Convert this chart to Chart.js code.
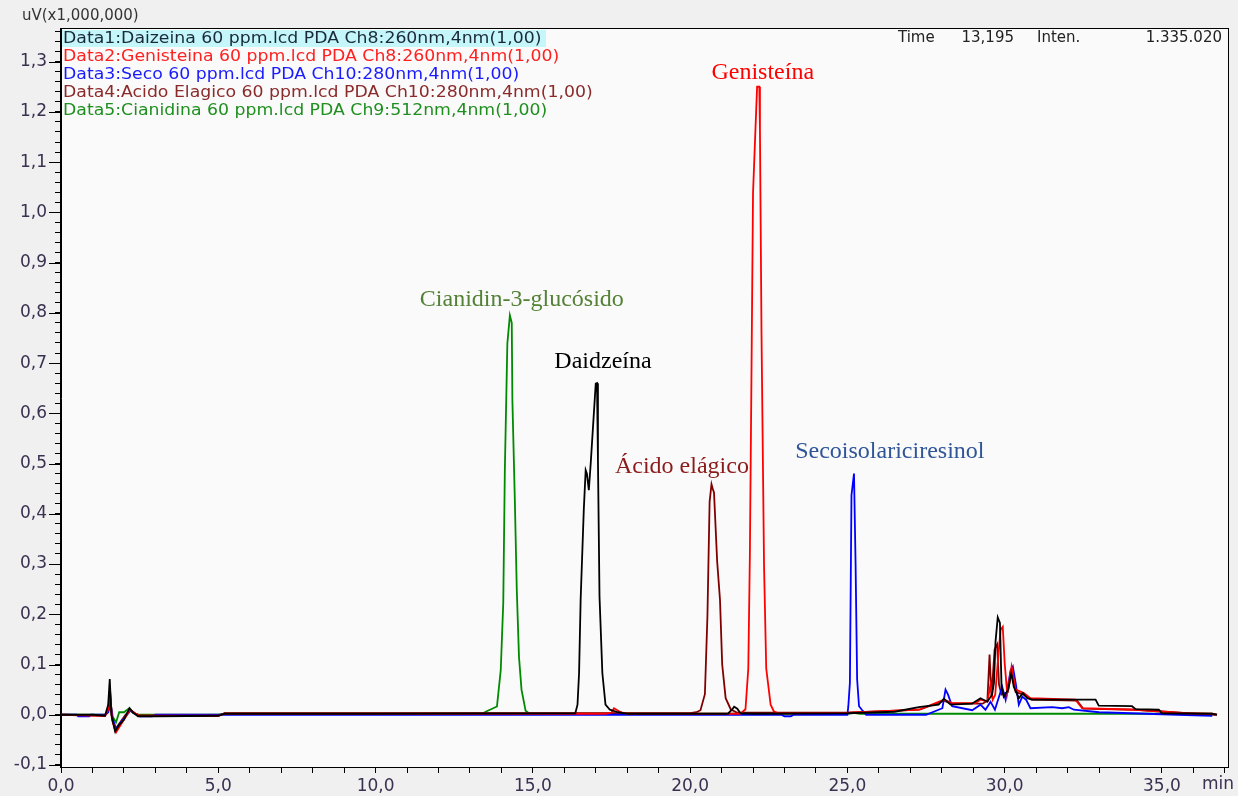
<!DOCTYPE html>
<html>
<head>
<meta charset="utf-8">
<title>Cromatograma</title>
<script src="https://cdn.jsdelivr.net/npm/chart.js@4.4.1/dist/chart.umd.min.js"></script>
<style>
html, body { margin: 0; padding: 0; background: #f0f0f0; }
#wrap { width: 1238px; height: 796px; }
</style>
</head>
<body>
<div id="wrap"><canvas id="chromChart" width="1238" height="796"></canvas></div>
<script>
// axis ranges (min, uV x 1,000,000)
var xMin = 0, xMax = 37.1;
var yMin = -0.104, yMax = 1.365;

// Data1: Daidzeina (black)
var daidzeinT = [0, 1.0, 1.4, 1.5, 1.55, 1.6, 1.72, 1.85, 2.0, 2.18, 2.3, 2.45, 3.0, 5.0, 5.2, 10, 16.35, 16.42, 16.47, 16.52, 16.62, 16.68, 16.72, 16.78, 16.84, 16.94, 17.0, 17.04, 17.07, 17.12, 17.21, 17.31, 17.45, 17.7, 18, 21.2, 21.33, 21.4, 21.5, 21.6, 22, 25, 26.5, 27.27, 27.9, 28.07, 28.28, 28.96, 29.23, 29.45, 29.6, 29.66, 29.71, 29.78, 29.85, 29.9, 29.97, 30.11, 30.21, 30.29, 30.45, 30.58, 30.72, 30.87, 32.89, 32.99, 34.05, 34.16, 34.9, 35.0, 36.6, 36.75];
var daidzeinV = [0, 0, -0.002, 0.02, 0.071, 0.0, -0.033, -0.02, -0.01, 0.013, 0.004, -0.003, -0.003, -0.002, 0.002, 0.002, 0.003, 0.02, 0.083, 0.229, 0.408, 0.487, 0.48, 0.447, 0.5, 0.60, 0.659, 0.66, 0.507, 0.235, 0.083, 0.02, 0.01, 0.005, 0.002, 0.002, 0.01, 0.016, 0.012, 0.003, 0.002, 0.003, 0.006, 0.015, 0.02, 0.032, 0.02, 0.022, 0.033, 0.026, 0.04, 0.064, 0.146, 0.194, 0.183, 0.056, 0.036, 0.05, 0.083, 0.056, 0.033, 0.043, 0.033, 0.03, 0.03, 0.018, 0.017, 0.011, 0.01, 0.003, 0.002, 0];

// Data2: Genisteina (red)
var genisteinT = [0, 1.4, 1.5, 1.56, 1.62, 1.75, 1.9, 2.1, 2.2, 2.35, 2.5, 5, 5.2, 16.4, 17.3, 17.5, 17.58, 17.66, 17.74, 17.85, 18.0, 21.6, 21.76, 21.85, 21.9, 21.95, 22.0, 22.08, 22.13, 22.2, 22.22, 22.27, 22.35, 22.42, 22.56, 22.66, 22.8, 25, 27.27, 28.07, 28.33, 29.07, 29.23, 29.45, 29.55, 29.62, 29.7, 29.8, 29.87, 29.94, 30.0, 30.08, 30.22, 30.35, 30.61, 30.82, 32.25, 32.46, 34.16, 35.75, 36.6, 36.75];
var genisteinV = [0, -0.002, 0.01, 0.05, -0.01, -0.035, -0.02, 0.0, 0.01, 0.003, -0.002, -0.002, 0.002, 0.002, 0.002, 0.004, 0.013, 0.01, 0.007, 0.004, 0.002, 0.002, 0.011, 0.092, 0.318, 0.672, 1.038, 1.17, 1.25, 1.25, 1.166, 0.757, 0.297, 0.092, 0.02, 0.007, 0.003, 0.004, 0.01, 0.03, 0.023, 0.023, 0.03, 0.026, 0.06, 0.03, 0.04, 0.12, 0.169, 0.175, 0.103, 0.043, 0.096, 0.05, 0.043, 0.033, 0.03, 0.013, 0.01, 0.003, 0.002, 0];

// Data3: Seco (blue)
var secoT = [0, 0.5, 0.55, 0.9, 0.95, 1.4, 1.5, 1.57, 1.63, 1.75, 1.9, 2.1, 2.2, 2.4, 2.5, 2.9, 3.0, 5.0, 5.2, 10.0, 16.4, 20, 22.9, 23.0, 23.2, 23.3, 25.0, 25.03, 25.08, 25.13, 25.21, 25.26, 25.31, 25.37, 25.46, 25.6, 27.5, 28.02, 28.12, 28.2, 28.33, 28.97, 29.23, 29.39, 29.55, 29.69, 29.82, 29.92, 30.03, 30.19, 30.26, 30.35, 30.45, 30.56, 30.68, 30.82, 31.51, 31.83, 32.04, 32.2, 33.0, 35.5, 36.6];
var secoV = [0, 0, -0.003, -0.003, 0, 0, 0.005, 0.03, -0.005, -0.028, -0.015, 0.0, 0.008, 0.0, -0.003, -0.003, 0, 0, 0, 0, 0, 0, 0, -0.003, -0.003, 0, 0, 0.017, 0.064, 0.437, 0.48, 0.302, 0.07, 0.017, 0.01, 0.0, 0.0, 0.013, 0.05, 0.04, 0.017, 0.009, 0.02, 0.01, 0.026, 0.01, 0.036, 0.056, 0.03, 0.089, 0.096, 0.063, 0.02, 0.036, 0.03, 0.013, 0.015, 0.013, 0.015, 0.01, 0.005, 0, -0.002];

// Data4: Acido Elagico (dark red)
var elagicoT = [0, 1.4, 1.5, 1.56, 1.62, 1.72, 1.85, 2.05, 2.2, 2.35, 2.5, 5, 5.2, 16.4, 20.0, 20.2, 20.33, 20.47, 20.55, 20.62, 20.68, 20.72, 20.76, 20.86, 20.95, 21.02, 21.13, 21.29, 21.5, 25, 27.3, 28.07, 28.3, 29.3, 29.45, 29.52, 29.58, 29.68, 29.76, 29.82, 29.9, 30.1, 30.22, 30.35, 30.6, 30.85, 32.3, 32.5, 34.2, 35.8, 36.7];
var elagicoV = [0, -0.002, 0.01, 0.045, -0.005, -0.03, -0.018, 0.0, 0.01, 0.003, -0.002, -0.002, 0.003, 0.003, 0.003, 0.005, 0.009, 0.041, 0.195, 0.424, 0.459, 0.45, 0.442, 0.305, 0.229, 0.1, 0.033, 0.011, 0.004, 0.004, 0.01, 0.028, 0.022, 0.022, 0.028, 0.12, 0.035, 0.13, 0.14, 0.06, 0.04, 0.045, 0.085, 0.045, 0.04, 0.03, 0.028, 0.012, 0.01, 0.003, 0];

// Data5: Cianidina (green)
var cianidinaT = [0, 1.4, 1.5, 1.58, 1.65, 1.75, 1.85, 2.0, 2.15, 2.3, 2.5, 5, 5.2, 13.4, 13.5, 13.86, 13.98, 14.06, 14.11, 14.19, 14.27, 14.33, 14.35, 14.43, 14.49, 14.56, 14.64, 14.77, 14.9, 25, 25.2, 25.4, 36.6];
var cianidinaV = [0, 0, 0.005, 0.02, -0.005, -0.015, 0.005, 0.005, 0.012, 0.003, 0, 0, 0.002, 0.002, 0.006, 0.0165, 0.089, 0.223, 0.487, 0.739, 0.795, 0.78, 0.626, 0.421, 0.248, 0.115, 0.05, 0.008, 0.002, 0.002, 0.004, 0.002, 0.002];

var seriesNames = ['Daizeina', 'Genisteina', 'Seco', 'Acido Elagico', 'Cianidina'];
var seriesColors = ['#000000', '#ff0000', '#0000ff', '#800000', '#008a00'];
var legendLines = [
    'Data1:Daizeina 60 ppm.lcd PDA Ch8:260nm,4nm(1,00)',
    'Data2:Genisteina 60 ppm.lcd PDA Ch8:260nm,4nm(1,00)',
    'Data3:Seco 60 ppm.lcd PDA Ch10:280nm,4nm(1,00)',
    'Data4:Acido Elagico 60 ppm.lcd PDA Ch10:280nm,4nm(1,00)',
    'Data5:Cianidina 60 ppm.lcd PDA Ch9:512nm,4nm(1,00)'
];
var legendColors = ['#1a2a3a', '#ff2020', '#1a1aff', '#8b2a2a', '#1f8f1f'];

// peak labels: text, time, intensity, colour
var peakLabels = ['Cianidin-3-glucósido', 'Daidzeína', 'Ácido elágico', 'Genisteína', 'Secoisolariciresinol'];
var peakLabelT = [14.65, 17.23, 19.74, 22.31, 26.35];
var peakLabelV = [0.826, 0.703, 0.494, 1.278, 0.523];
var peakLabelColors = ['#538135', '#000000', '#8b1a1a', '#ff0000', '#2f5597'];

var cursorInfo = ['Time', '13,195', 'Inten.', '1.335.020'];

function toPoints(ts, vs) {
    var pts = [];
    for (var i = 0; i < ts.length; i++) pts.push({x: ts[i], y: vs[i]});
    return pts;
}

var seriesData = [
    toPoints(daidzeinT, daidzeinV),
    toPoints(genisteinT, genisteinV),
    toPoints(secoT, secoV),
    toPoints(elagicoT, elagicoV),
    toPoints(cianidinaT, cianidinaV)
];

function commaNum(v) {
    return v.toFixed(1).replace('.', ',');
}

var chromPlugin = {
    id: 'chromDecor',
    beforeDraw: function(chart) {
        var c = chart.ctx, a = chart.chartArea;
        c.save();
        c.fillStyle = '#f0f0f0';
        c.fillRect(0, 0, chart.width, chart.height);
        c.fillStyle = '#fafafa';
        c.fillRect(a.left, a.top, a.right - a.left, a.bottom - a.top);
        c.restore();
    },
    afterDraw: function(chart) {
        var c = chart.ctx, a = chart.chartArea;
        var ys = chart.scales.y, xs = chart.scales.x;
        c.save();

        // frame
        c.strokeStyle = '#000';
        c.lineWidth = 1;
        c.strokeRect(a.left - 0.5, a.top - 0.5, a.right - a.left + 1, a.bottom - a.top + 1);

        // longer major ticks on the y axis
        c.beginPath();
        for (var v = -0.1; v <= yMax + 1e-9; v += 0.1) {
            var py = Math.round(ys.getPixelForValue(v)) + 0.5;
            c.moveTo(a.left - 12, py);
            c.lineTo(a.left, py);
        }
        c.stroke();

        // unit labels
        c.fillStyle = '#333';
        c.font = '15px "DejaVu Sans"';
        c.textBaseline = 'middle';
        c.textAlign = 'left';
        c.fillText('uV(x1,000,000)', 22, 16);
        c.font = '17px "DejaVu Sans"';
        c.fillStyle = '#3a3050';
        c.fillText('min', a.right - 26, 785);

        // data legend (text slightly widened like the original screenshot)
        c.fillStyle = '#c4f6fa';
        c.fillRect(a.left + 1, a.top + 1, 484, 17);
        c.font = '16px "DejaVu Sans"';
        for (var i = 0; i < legendLines.length; i++) {
            c.save();
            c.translate(a.left + 2, a.top + 10 + i * 18);
            c.scale(1.08, 1);
            c.fillStyle = legendColors[i];
            c.fillText(legendLines[i], 0, 0);
            c.restore();
        }

        // cursor readout
        c.fillStyle = '#222';
        c.font = '15px "DejaVu Sans"';
        c.textAlign = 'left';
        c.fillText(cursorInfo[0], 898, a.top + 9);
        c.textAlign = 'right';
        c.fillText(cursorInfo[1], 1014, a.top + 9);
        c.textAlign = 'left';
        c.fillText(cursorInfo[2], 1037, a.top + 9);
        c.textAlign = 'right';
        c.fillText(cursorInfo[3], 1222, a.top + 9);

        // peak names
        c.font = '24px "Liberation Serif"';
        c.textAlign = 'center';
        for (var k = 0; k < peakLabels.length; k++) {
            c.fillStyle = peakLabelColors[k];
            c.fillText(peakLabels[k], xs.getPixelForValue(peakLabelT[k]), ys.getPixelForValue(peakLabelV[k]));
        }
        c.restore();
    }
};

var datasets = [];
for (var s = 0; s < seriesData.length; s++) {
    datasets.push({
        label: seriesNames[s],
        data: seriesData[s],
        borderColor: seriesColors[s],
        borderWidth: 1.8,
        pointRadius: 0,
        tension: 0,
        fill: false
    });
}

var chromChart = new Chart(document.getElementById('chromChart').getContext('2d'), {
    type: 'line',
    data: { datasets: datasets },
    options: {
        responsive: false,
        animation: false,
        devicePixelRatio: 1,
        layout: { padding: { left: 0, right: 10, top: 29, bottom: 0 } },
        plugins: {
            legend: { display: false },
            tooltip: { enabled: false }
        },
        scales: {
            x: {
                type: 'linear',
                min: xMin,
                max: xMax,
                afterFit: function(scale) { scale.height = 29; },
                border: { display: true, color: '#000' },
                grid: { drawOnChartArea: false, drawTicks: true, tickLength: 6, color: '#000' },
                ticks: {
                    stepSize: 1,
                    autoSkip: false,
                    includeBounds: false,
                    maxRotation: 0,
                    padding: 3,
                    color: '#3a3050',
                    font: { family: 'DejaVu Sans', size: 17 },
                    callback: function(value) {
                        return (Math.abs(value % 5) < 1e-6) ? commaNum(value) : '';
                    }
                }
            },
            y: {
                min: yMin,
                max: yMax,
                afterFit: function(scale) { scale.width = 61; },
                border: { display: true, color: '#000' },
                grid: { drawOnChartArea: false, drawTicks: true, tickLength: 6, color: '#000' },
                ticks: {
                    stepSize: 0.02,
                    autoSkip: false,
                    includeBounds: false,
                    padding: 8,
                    color: '#3a3050',
                    font: { family: 'DejaVu Sans', size: 17 },
                    callback: function(value) {
                        var tenths = value * 10;
                        return (Math.abs(tenths - Math.round(tenths)) < 1e-6) ? commaNum(Math.round(tenths) / 10) : '';
                    }
                }
            }
        }
    },
    plugins: [chromPlugin]
});
</script>
</body>
</html>
